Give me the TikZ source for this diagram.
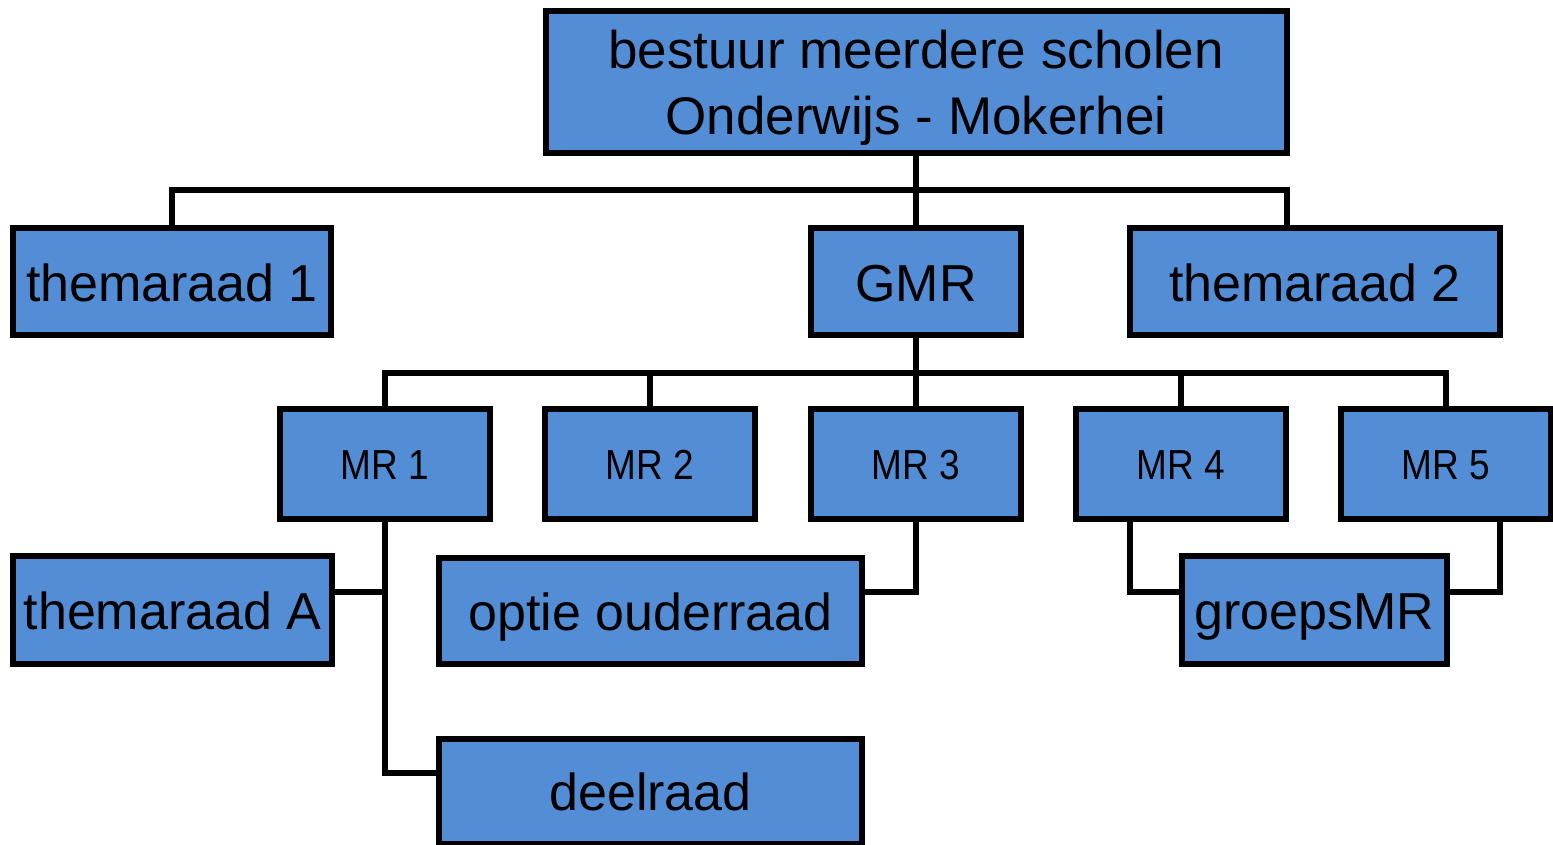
\documentclass[tikz,border=0pt]{standalone}
\usepackage{fontspec}
\setmainfont{Liberation Sans}
\newfontfamily\mrfont[FakeStretch=0.88]{Liberation Sans}
\definecolor{boxblue}{RGB}{82,141,213}
\begin{document}
\begin{tikzpicture}[x=1pt,y=-1pt,
  box/.style={draw=black, fill=boxblue, line width=6pt, inner sep=0pt},
  big/.style={box, text height=39pt, text depth=0pt, font=\fontsize{52}{62}\selectfont},
  mr/.style={box, minimum width=210pt, minimum height=110pt, text height=31pt, text depth=0pt, font=\mrfont\fontsize{42}{50}\selectfont},
  conn/.style={draw=black, line width=6pt}]
\useasboundingbox (0,0) rectangle (1553,844);

% nodes
\node[box, minimum width=741pt, minimum height=142pt, align=center, text depth=0pt,
      font=\fontsize{53}{66}\selectfont] (top) at (916,82) {bestuur meerdere scholen\\Onderwijs - Mokerhei};
\node[big, minimum width=318pt, minimum height=107pt] (them1) at (172,281.5) {themaraad 1};
\node[big, minimum width=210pt, minimum height=107pt] (GMR) at (916,281.5) {GMR};
\node[big, minimum width=370pt, minimum height=107pt] (them2) at (1315,281.5) {themaraad 2};

\node[mr] (MR1) at (385,464) {MR 1};
\node[mr] (MR2) at (650,464) {MR 2};
\node[mr] (MR3) at (916,464) {MR 3};
\node[mr] (MR4) at (1181,464) {MR 4};
\node[mr] (MR5) at (1446,464) {MR 5};

\node[big, minimum width=319pt, minimum height=108pt] (themA) at (172.5,610) {themaraad A};
\node[big, minimum width=423pt, minimum height=106pt] (optie) at (650.5,611) {optie ouderraad};
\node[big, minimum width=265pt, minimum height=108pt] (groeps) at (1314.5,610) {groepsMR};
\node[big, minimum width=423pt, minimum height=105pt] (deel) at (650.5,791) {deelraad};

% helper coordinates
\coordinate (j1) at (916,190);
\coordinate (j2) at (916,373);
\coordinate (y592) at (0,592);
\coordinate (y773) at (0,773);

% connectors
\draw[conn] (top.south) -- (GMR.north);
\draw[conn] (them1.north) |- (j1) -| ([xshift=-28pt]them2.north);

\draw[conn] (GMR.south) -- (MR3.north);
\draw[conn] (MR1.north) |- (j2) -| (MR5.north);
\draw[conn] (MR2.north) -- (MR2.north |- j2);
\draw[conn] (MR4.north) -- (MR4.north |- j2);

\draw[conn] (MR1.south) |- (deel.west |- y773);
\draw[conn] (themA.east |- y592) -- (MR1.south |- y592);
\draw[conn] (MR3.south) |- (optie.east |- y592);
\draw[conn] ([xshift=-51pt]MR4.south) |- (groeps.west |- y592);
\draw[conn] ([xshift=54pt]MR5.south) |- (groeps.east |- y592);
\end{tikzpicture}
\end{document}
